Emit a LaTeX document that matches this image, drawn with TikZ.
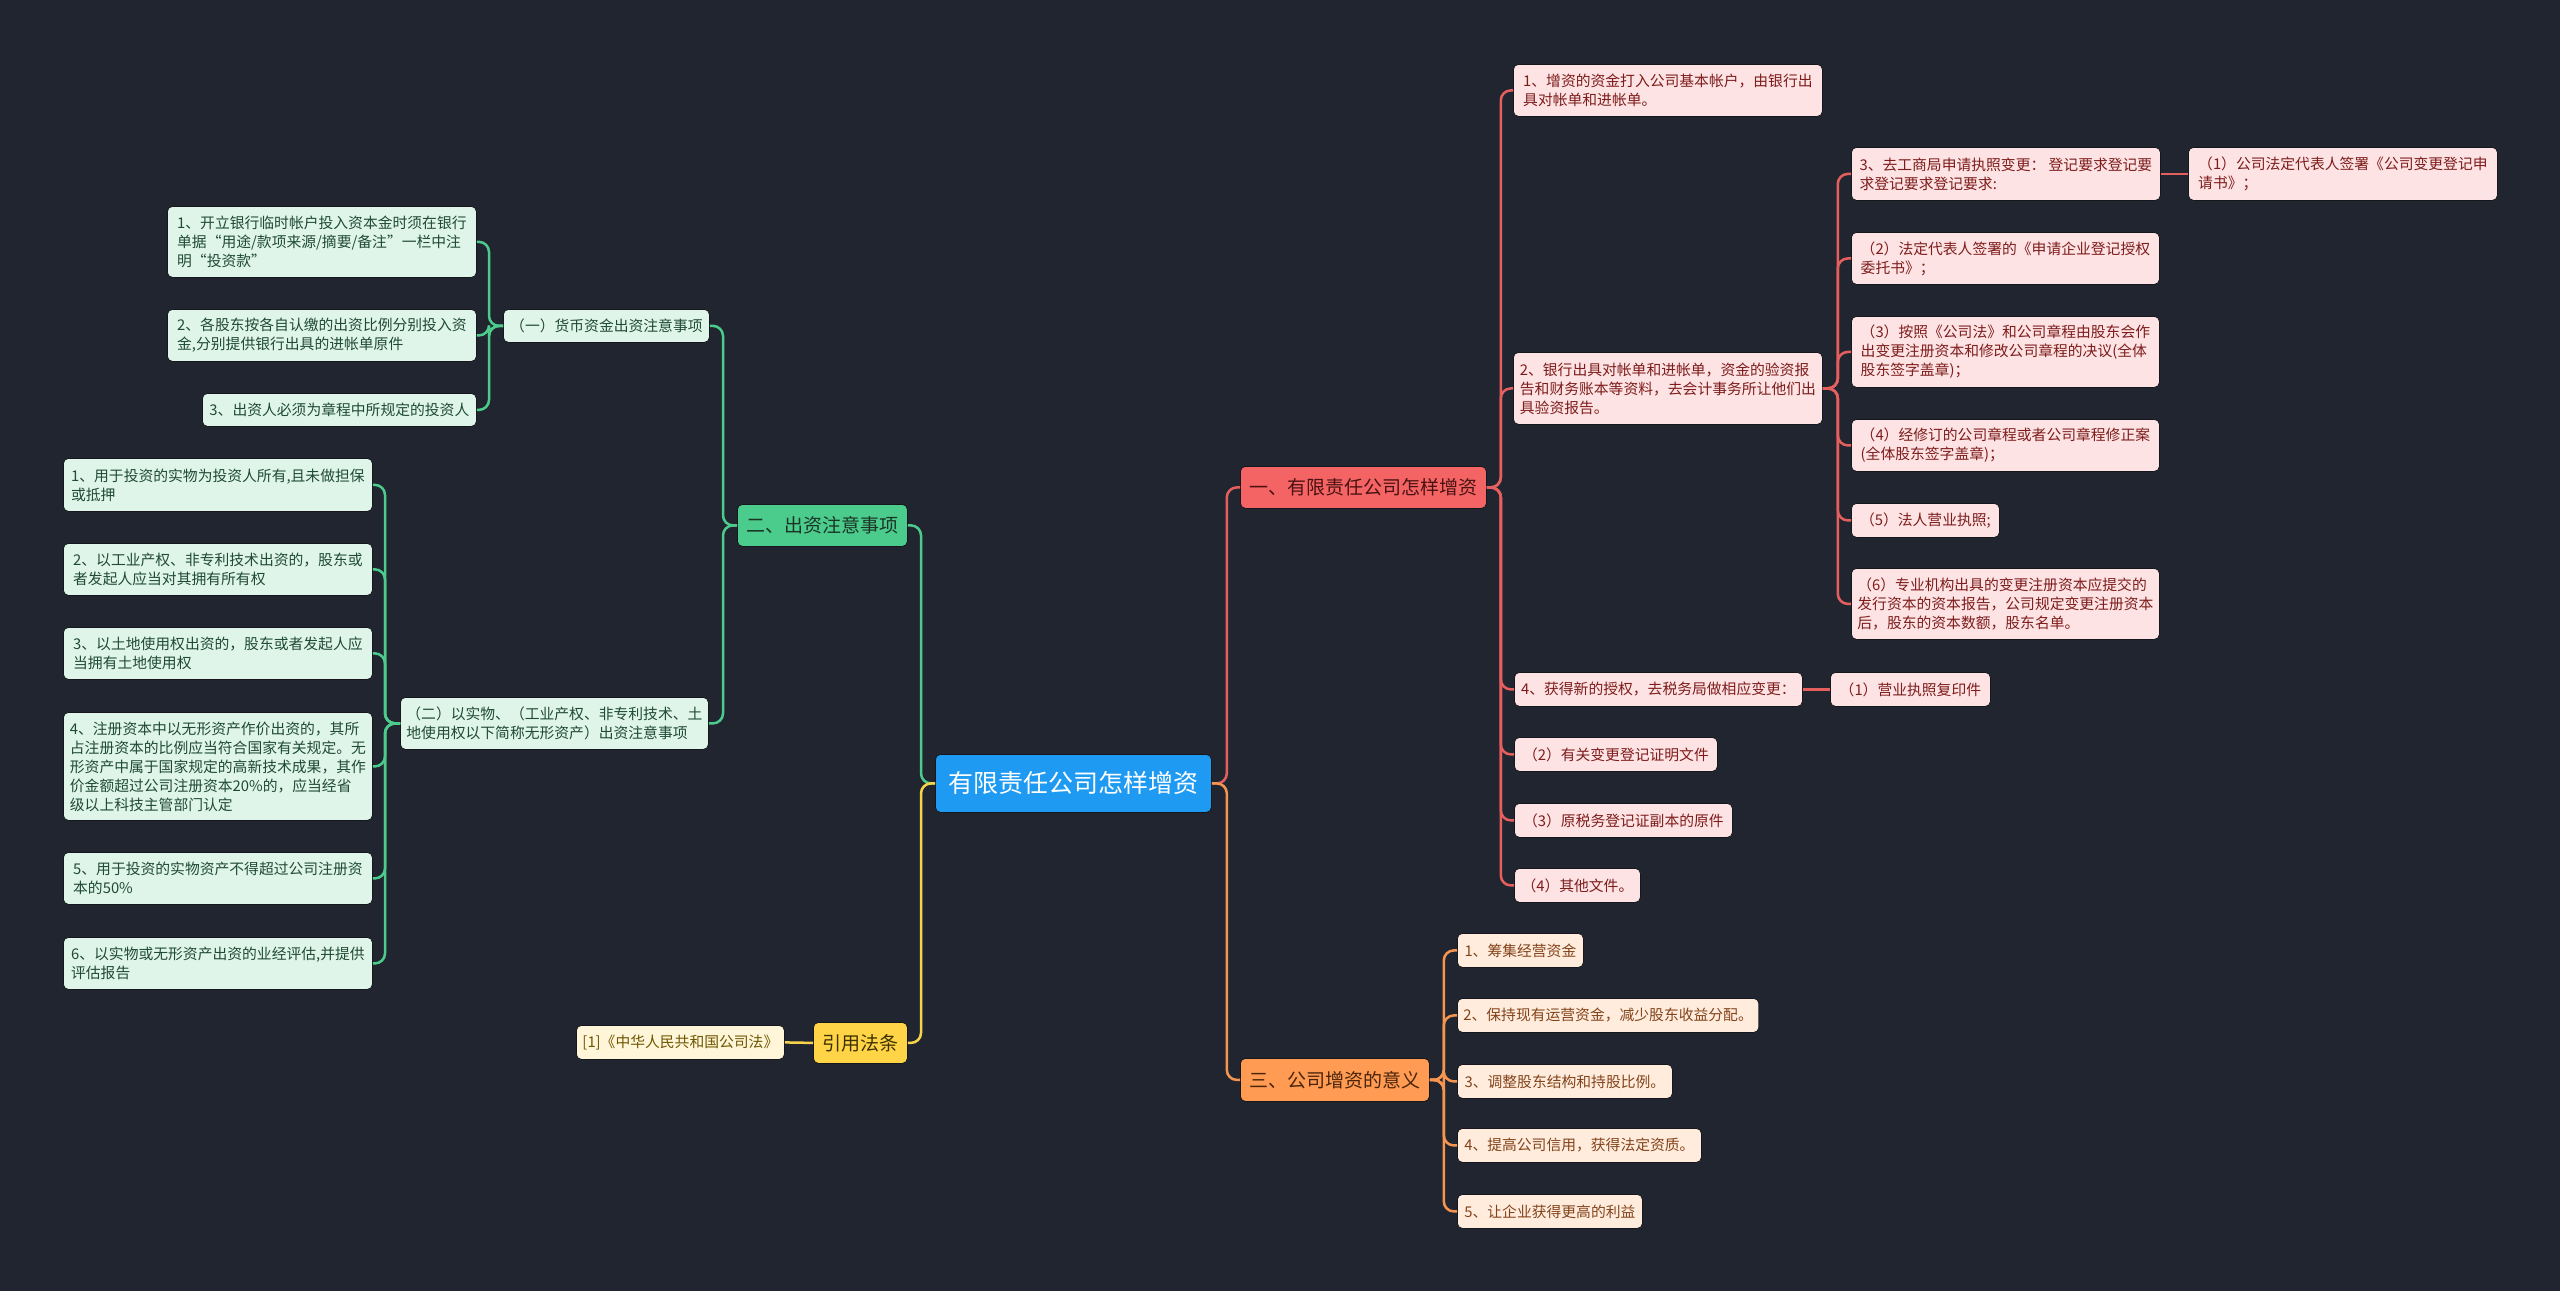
\documentclass[tikz,border=0pt]{standalone}
\usepackage{fontspec}
\setmainfont{Noto Sans CJK SC}
\definecolor{bgc}{HTML}{21252F}
\definecolor{boxline}{HTML}{15171D}
\definecolor{gmain}{HTML}{4CCC8C}
\definecolor{gleafc}{HTML}{E0F5EA}
\definecolor{gtext}{HTML}{1F4A33}
\definecolor{gdark}{HTML}{1A3526}
\definecolor{rmain}{HTML}{F46464}
\definecolor{rleafc}{HTML}{FDE3E3}
\definecolor{rtext}{HTML}{7E1C1C}
\definecolor{rdark}{HTML}{4A1212}
\definecolor{rlinec}{HTML}{E55F5F}
\definecolor{omain}{HTML}{FF9B52}
\definecolor{oleafc}{HTML}{FFECDD}
\definecolor{otext}{HTML}{83431A}
\definecolor{odark}{HTML}{4A240A}
\definecolor{olinec}{HTML}{F5954F}
\definecolor{ymain}{HTML}{FFD447}
\definecolor{yleafc}{HTML}{FFF5D8}
\definecolor{ytext}{HTML}{6E5600}
\definecolor{ydark}{HTML}{3D3000}
\definecolor{ylinec}{HTML}{F7D34A}
\definecolor{bmain}{HTML}{1E9AF2}
\begin{document}
\begin{tikzpicture}[x=1bp,y=-1bp,
  box/.style={rounded corners=5bp, draw=boxline, line width=0.8bp, anchor=north west, inner xsep=6bp, inner ysep=3bp},
  leaf/.style={box, align=left, font=\fontsize{14.8bp}{19bp}\selectfont},
  gleaf/.style={leaf, fill=gleafc, text=gtext},
  rleaf/.style={leaf, fill=rleafc, text=rtext},
  oleaf/.style={leaf, fill=oleafc, text=otext},
  yleaf/.style={leaf, fill=yleafc, text=ytext},
  branch/.style={box, align=center, font=\fontsize{19bp}{23bp}\selectfont},
  conn/.style={line width=2.5bp, rounded corners=10bp},
  gline/.style={conn, draw=gmain},
  rline/.style={conn, draw=rlinec},
  oline/.style={conn, draw=olinec},
  yline/.style={conn, draw=ylinec}]
\fill[bgc] (0,0) rectangle (2560,1291);
\useasboundingbox (0,0) rectangle (2560,1291);

% center
\node[box, fill=bmain, text=white, align=center, font=\fontsize{25bp}{30bp}\selectfont, minimum width=276bp, minimum height=58bp] (center) at (935,754) {有限责任公司怎样增资};

% left branch: 二
\node[branch, fill=gmain, text=gdark, minimum width=170bp, minimum height=42bp] (n2) at (737,504) {二、出资注意事项};
\node[gleaf, minimum width=206bp, minimum height=33bp] (g1) at (503,309) {（一）货币资金出资注意事项};
\node[gleaf, minimum width=308bp, minimum height=52bp] (g2) at (400,697) {（二）以实物、（工业产权、非专利技术、土\\地使用权以下简称无形资产）出资注意事项};
\node[gleaf, minimum width=309bp, minimum height=71bp] (a1) at (167,206) {1、开立银行临时帐户投入资本金时须在银行\\单据“用途/款项来源/摘要/备注”一栏中注\\明“投资款”};
\node[gleaf, minimum width=309bp, minimum height=52bp] (a2) at (167,309) {2、各股东按各自认缴的出资比例分别投入资\\金,分别提供银行出具的进帐单原件};
\node[gleaf, minimum width=274bp, minimum height=33bp] (a3) at (202,393) {3、出资人必须为章程中所规定的投资人};
\node[gleaf, minimum width=309bp, minimum height=53bp] (b1) at (63,458) {1、用于投资的实物为投资人所有,且未做担保\\或抵押};
\node[gleaf, minimum width=309bp, minimum height=52bp] (b2) at (63,543) {2、以工业产权、非专利技术出资的，股东或\\者发起人应当对其拥有所有权};
\node[gleaf, minimum width=309bp, minimum height=52bp] (b3) at (63,627) {3、以土地使用权出资的，股东或者发起人应\\当拥有土地使用权};
\node[gleaf, minimum width=309bp, minimum height=108bp] (b4) at (63,712) {4、注册资本中以无形资产作价出资的，其所\\占注册资本的比例应当符合国家有关规定。无\\形资产中属于国家规定的高新技术成果，其作\\价金额超过公司注册资本20\%的，应当经省\\级以上科技主管部门认定};
\node[gleaf, minimum width=309bp, minimum height=52bp] (b5) at (63,852) {5、用于投资的实物资产不得超过公司注册资\\本的50\%};
\node[gleaf, minimum width=309bp, minimum height=52bp] (b6) at (63,937) {6、以实物或无形资产出资的业经评估,并提供\\评估报告};

% left branch: 引用法条
\node[branch, fill=ymain, text=ydark, minimum width=94bp, minimum height=41bp] (n4) at (813,1022) {引用法条};
\node[yleaf, minimum width=208bp, minimum height=34bp] (ref) at (576,1025) {[1]《中华人民共和国公司法》};

% right branch: 一
\node[branch, fill=rmain, text=rdark, minimum width=246bp, minimum height=42bp] (n1) at (1240,466) {一、有限责任公司怎样增资};
\node[rleaf, minimum width=309bp, minimum height=52bp] (r1) at (1513,64) {1、增资的资金打入公司基本帐户，由银行出\\具对帐单和进帐单。};
\node[rleaf, minimum width=309bp, minimum height=72bp] (r2) at (1513,352) {2、银行出具对帐单和进帐单，资金的验资报\\告和财务账本等资料，去会计事务所让他们出\\具验资报告。};
\node[rleaf, minimum width=309bp, minimum height=53bp] (r3) at (1851,147) {3、去工商局申请执照变更：~登记要求登记要\\求登记要求登记要求:};
\node[rleaf, minimum width=309bp, minimum height=53bp] (s1) at (2188,147) {（1）公司法定代表人签署《公司变更登记申\\请书》；};
\node[rleaf, minimum width=308bp, minimum height=52bp] (s2) at (1851,232) {（2）法定代表人签署的《申请企业登记授权\\委托书》；};
\node[rleaf, minimum width=308bp, minimum height=71bp] (s3) at (1851,316) {（3）按照《公司法》和公司章程由股东会作\\出变更注册资本和修改公司章程的决议(全体\\股东签字盖章)；};
\node[rleaf, minimum width=308bp, minimum height=52bp] (s4) at (1851,419) {（4）经修订的公司章程或者公司章程修正案\\(全体股东签字盖章)；};
\node[rleaf, minimum width=148bp, minimum height=34bp] (s5) at (1851,503) {（5）法人营业执照;};
\node[rleaf, minimum width=308bp, minimum height=71bp] (s6) at (1851,568) {（6）专业机构出具的变更注册资本应提交的\\发行资本的资本报告，公司规定变更注册资本\\后，股东的资本数额，股东名单。};
\node[rleaf, minimum width=288bp, minimum height=34bp] (r4) at (1514,672) {4、获得新的授权，去税务局做相应变更：};
\node[rleaf, minimum width=160bp, minimum height=34bp] (u1) at (1830,672) {（1）营业执照复印件};
\node[rleaf, minimum width=203bp, minimum height=34bp] (t2) at (1514,737) {（2）有关变更登记证明文件};
\node[rleaf, minimum width=218bp, minimum height=34bp] (t3) at (1514,803) {（3）原税务登记证副本的原件};
\node[rleaf, minimum width=126bp, minimum height=34bp] (t4) at (1514,868) {（4）其他文件。};

% right branch: 三
\node[branch, fill=omain, text=odark, minimum width=189bp, minimum height=43bp] (n3) at (1240,1058) {三、公司增资的意义};
\node[oleaf, minimum width=126bp, minimum height=34bp] (o1) at (1457,933) {1、筹集经营资金};
\node[oleaf, minimum width=257bp, minimum height=34bp] (o2) at (1457,998) {2、保持现有运营资金，减少股东收益分配。};
\node[oleaf, minimum width=215bp, minimum height=34bp] (o3) at (1457,1064) {3、调整股东结构和持股比例。};
\node[oleaf, minimum width=244bp, minimum height=34bp] (o4) at (1457,1128) {4、提高公司信用，获得法定资质。};
\node[oleaf, minimum width=185bp, minimum height=34bp] (o5) at (1457,1194) {5、让企业获得更高的利益};

% connectors
\draw[gline] (center.west) -- ++(-14,0) |- (n2.east);
\draw[yline] (center.west) -- ++(-14,0) |- (n4.east);
\draw[yline] (n4.west) -- (ref.east);
\draw[rline] (center.east) -- ++(15,0) |- (n1.west);
\draw[oline] (center.east) -- ++(15,0) |- (n3.west);

\foreach \c in {g1,g2} \draw[gline] (n2.west) -- ++(-14,0) |- (\c.east);
\foreach \c in {a1,a2,a3} \draw[gline] (g1.west) -- ++(-14,0) |- (\c.east);
\foreach \c in {b1,b2,b3,b4,b5,b6} \draw[gline] (g2.west) -- ++(-15,0) |- (\c.east);

\foreach \c in {r1,r2,r4,t2,t3,t4} \draw[rline] (n1.east) -- ++(14,0) |- (\c.west);
\foreach \c in {r3,s2,s3,s4,s5,s6} \draw[rline] (r2.east) -- ++(15,0) |- (\c.west);
\draw[rline] (r3.east) -- (s1.west);
\draw[rline] (r4.east) -- (u1.west);

\foreach \c in {o1,o2,o3,o4,o5} \draw[oline] (n3.east) -- ++(14,0) |- (\c.west);
\end{tikzpicture}
\end{document}
